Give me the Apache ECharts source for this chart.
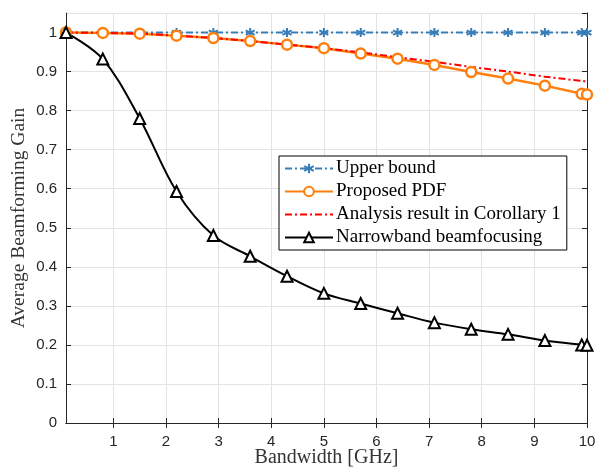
<!DOCTYPE html>
<html><head><meta charset="utf-8">
<script src="https://cdn.jsdelivr.net/npm/echarts@6/dist/echarts.min.js"></script>
<style>html,body{margin:0;padding:0;background:#fff}#c{width:601px;height:472px}</style>
</head><body><div id="c"></div>
<script>
const bandwidth = [0.1, 0.8, 1.5, 2.2, 2.9, 3.6, 4.3, 5.0, 5.7, 6.4, 7.1, 7.8, 8.5, 9.2, 9.9, 10];
const upperBound = [1, 1, 1, 1, 1, 1, 1, 1, 1, 1, 1, 1, 1, 1, 1, 1];
const proposedPDF = [1.0, 0.999, 0.997, 0.992, 0.986, 0.978, 0.969, 0.960, 0.946, 0.933, 0.917, 0.899, 0.882, 0.864, 0.843, 0.841];
const analysis = [1.0, 0.999, 0.997, 0.992, 0.986, 0.978, 0.969, 0.960, 0.949, 0.937, 0.925, 0.912, 0.900, 0.887, 0.876, 0.875];
const narrowband = [1.0, 0.932, 0.780, 0.593, 0.480, 0.427, 0.376, 0.332, 0.306, 0.281, 0.257, 0.240, 0.227, 0.211, 0.200, 0.199];
const xTicks = [1, 2, 3, 4, 5, 6, 7, 8, 9, 10];
const names = ['Upper bound', 'Proposed PDF', 'Analysis result in Corollary 1', 'Narrowband beamfocusing'];

const pair = ys => bandwidth.map((x, i) => [x, ys[i]]);
const axisColor = '#262626';
const gridColor = '#e3e3e3';
const asterisk = 'path://M0,-10L0,10M-8.66,-5L8.66,5M-8.66,5L8.66,-5';

const chart = echarts.init(document.getElementById('c'));
chart.setOption({
  animation: false,
  backgroundColor: '#fff',
  grid: { left: 66, right: 14, top: 13, bottom: 49, outerBoundsMode: 'none', containLabel: false },
  legend: {
    orient: 'vertical', left: 279, top: 156,
    backgroundColor: '#fff', borderColor: '#000', borderWidth: 1,
    padding: [3, 6, 3, 5], itemGap: 4, itemWidth: 48, itemHeight: 12,
    textStyle: { fontFamily: 'Liberation Serif', fontSize: 19, color: '#000', padding: [0, 0, 0, -2] },
    data: [names[0], names[1], { name: names[2], itemStyle: { opacity: 0 } }, names[3]]
  },
  xAxis: [{
    type: 'value', min: 0.1, max: 10,
    name: 'Bandwidth [GHz]', nameLocation: 'middle', nameGap: 25, nameMoveOverlap: false,
    nameTextStyle: { fontFamily: 'Liberation Serif', fontSize: 20, color: '#333' },
    axisLine: { lineStyle: { color: axisColor, width: 1 } },
    axisTick: { inside: true, length: 5, lineStyle: { color: axisColor }, customValues: xTicks },
    axisLabel: { fontFamily: 'Liberation Sans', fontSize: 15, color: axisColor, margin: 11, customValues: xTicks },
    splitLine: { show: true, lineStyle: { color: gridColor, width: 1 } }
  }, {
    type: 'value', min: 0.1, max: 10, position: 'top',
    axisLine: { show: true, lineStyle: { color: axisColor, width: 1 } },
    axisTick: { inside: true, length: 5, lineStyle: { color: axisColor }, customValues: xTicks },
    axisLabel: { show: false }, splitLine: { show: false }
  }],
  yAxis: [{
    type: 'value', min: 0, max: 1.05, interval: 0.1,
    name: 'Average Beamforming Gain', nameLocation: 'middle', nameGap: 37, nameMoveOverlap: false,
    nameTextStyle: { fontFamily: 'Liberation Serif', fontSize: 19.5, color: '#333' },
    axisLine: { show: true, lineStyle: { color: axisColor, width: 1 } },
    axisTick: { inside: true, length: 5, lineStyle: { color: axisColor } },
    axisLabel: { fontFamily: 'Liberation Sans', fontSize: 15, color: axisColor, margin: 9, showMaxLabel: false,
      formatter: v => (Math.abs(v - 1.05) < 1e-6 ? '' : String(Math.round(v * 10) / 10)) },
    splitLine: { show: true, lineStyle: { color: gridColor, width: 1 } }
  }, {
    type: 'value', min: 0, max: 1.05, interval: 0.1, position: 'right',
    axisLine: { show: true, lineStyle: { color: axisColor, width: 1 } },
    axisTick: { inside: true, length: 5, lineStyle: { color: axisColor } },
    axisLabel: { show: false }, splitLine: { show: false }
  }],
  series: [{
    name: names[0], type: 'line', data: pair(upperBound),
    symbol: asterisk, symbolSize: 9, showAllSymbol: true,
    lineStyle: { color: '#377eb8', width: 2, type: [7, 3, 2, 3] },
    itemStyle: { color: '#377eb8', borderColor: '#377eb8', borderWidth: 2 }
  }, {
    name: names[1], type: 'line', data: pair(proposedPDF),
    symbol: 'circle', symbolSize: 10, showAllSymbol: true,
    lineStyle: { color: '#ff7f0e', width: 2.5 },
    itemStyle: { color: '#fff', borderColor: '#ff7f0e', borderWidth: 2.5 }
  }, {
    name: names[2], type: 'line', data: pair(analysis), smooth: 0.3,
    symbol: 'none',
    lineStyle: { color: '#ff0000', width: 2, type: [7, 3, 2, 3] },
    itemStyle: { color: '#ff0000' }
  }, {
    name: names[3], type: 'line', data: pair(narrowband), smooth: 0.35,
    symbol: 'triangle', symbolSize: 11, showAllSymbol: true,
    lineStyle: { color: '#000', width: 2 },
    itemStyle: { color: '#fff', borderColor: '#000', borderWidth: 2 }
  }]
});
</script></body></html>
